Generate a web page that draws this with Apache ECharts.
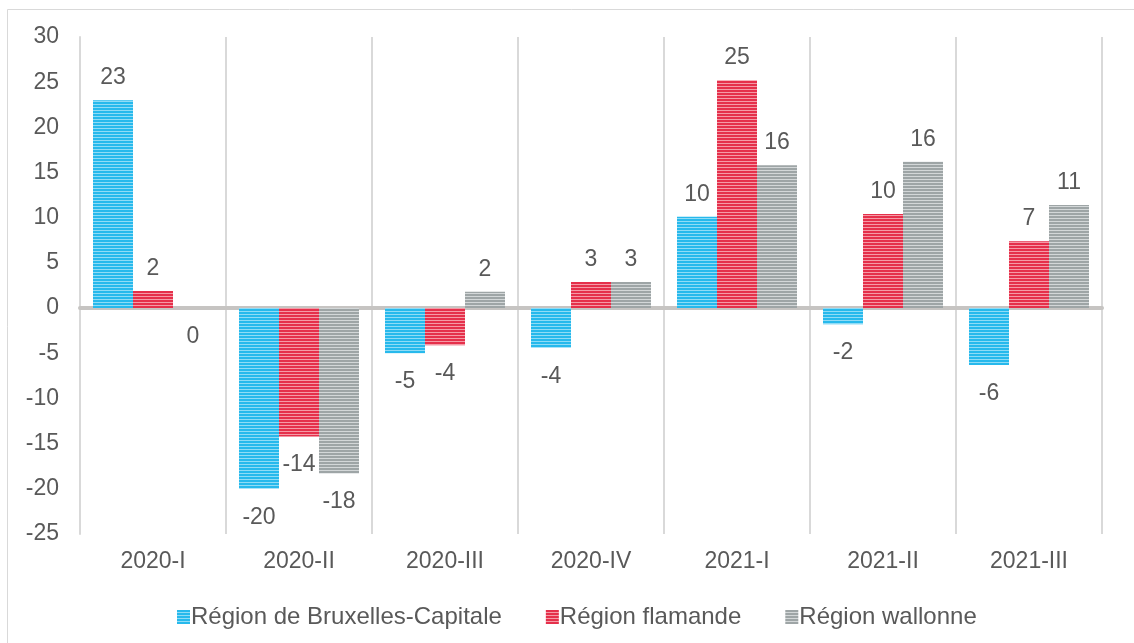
<!DOCTYPE html>
<html>
<head>
<meta charset="utf-8">
<script src="https://cdn.jsdelivr.net/npm/echarts@6/dist/echarts.min.js"></script>
<style>
  html, body { margin: 0; padding: 0; background: #fff; }
  #chart { width: 1134px; height: 643px; }
</style>
</head>
<body>
<div id="chart"></div>
<script>
const categories = ['2020-I', '2020-II', '2020-III', '2020-IV', '2021-I', '2021-II', '2021-III']
const seriesNames = ['Région de Bruxelles-Capitale', 'Région flamande', 'Région wallonne']
const bruxelles = [23, -20, -5, -4.4, 10.1, -1.8, -6.3]
const flandre = [1.9, -14.2, -4.1, 2.9, 25.2, 10.4, 7.4]
const wallonie = [0, -18.3, 1.8, 2.9, 15.8, 16.2, 11.4]
const yTicks = [-25, -20, -15, -10, -5, 0, 5, 10, 15, 20, 25, 30]

// barres hachurées horizontalement, comme dans Excel
const stripe = (base, light) => {
  const c = document.createElement('canvas')
  c.width = 4
  c.height = 3
  const ctx = c.getContext('2d')
  ctx.fillStyle = base
  ctx.fillRect(0, 0, 4, 3)
  ctx.fillStyle = light
  ctx.fillRect(0, 2, 4, 1)
  return {image: c, repeat: 'repeat'}
}

const colors = [
  stripe('#27b9ec', '#8fdcf6'),
  stripe('#e5304b', '#f59aa6'),
  stripe('#9ea5a6', '#d3d7d8'),
]

const fontFamily = 'Liberation Sans, Arial, sans-serif'
const textColor = '#595959'

const makeSeries = (name, values, i) => ({
  name,
  type: 'bar',
  barWidth: 40,
  barGap: '0%',
  itemStyle: {color: colors[i]},
  data: values.map((v) => ({
    value: v,
    label: {
      show: true,
      position: v > 0 ? 'top' : 'bottom',
      distance: v > 0 ? 11 : 17,
      formatter: () => String(Math.round(v)),
      fontFamily,
      fontSize: 23,
      color: textColor
    }
  }))
})

const chart = echarts.init(document.getElementById('chart'))
chart.setOption({
  animation: false,
  backgroundColor: '#fff',
  grid: {
    left: 80,
    right: 32,
    top: 37,
    bottom: 109
  },
  graphic: [{
    type: 'rect',
    shape: {x: 7.5, y: 9.5, width: 1200, height: 700},
    style: {fill: null, stroke: '#d9d9d9', lineWidth: 1},
    silent: true,
    z: -1
  }],
  legend: {
    top: 600,
    left: 172,
    itemWidth: 13,
    itemHeight: 14,
    itemGap: 44,
    icon: 'rect',
    textStyle: {
      fontFamily,
      fontSize: 24,
      color: textColor,
      padding: [0, 0, 0, -4]
    },
    data: seriesNames
  },
  xAxis: {
    type: 'category',
    data: categories,
    axisLine: {
      show: true,
      onZero: true,
      lineStyle: {color: '#c6c4c2', width: 4}
    },
    axisTick: {show: false},
    splitLine: {
      show: true,
      lineStyle: {color: '#d9d9d9', width: 2}
    },
    axisLabel: {
      interval: 0,
      margin: 16,
      fontFamily,
      fontSize: 23,
      color: textColor
    }
  },
  yAxis: {
    type: 'value',
    min: yTicks[0],
    max: yTicks[yTicks.length - 1],
    interval: 5,
    axisLine: {
      show: true,
      lineStyle: {color: '#d9d9d9', width: 2}
    },
    axisTick: {show: false},
    splitLine: {show: false},
    axisLabel: {
      margin: 21,
      fontFamily,
      fontSize: 23,
      color: textColor
    }
  },
  series: [
    makeSeries(seriesNames[0], bruxelles, 0),
    makeSeries(seriesNames[1], flandre, 1),
    makeSeries(seriesNames[2], wallonie, 2)
  ]
})
</script>
</body>
</html>
